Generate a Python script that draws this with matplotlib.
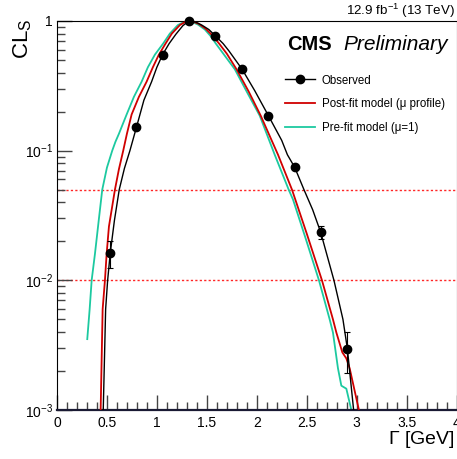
import matplotlib
matplotlib.use("Agg")
import matplotlib.pyplot as plt
from matplotlib.lines import Line2D
from matplotlib.ticker import FixedLocator, LogLocator, NullFormatter, MultipleLocator

plt.rcParams["font.family"] = ["Liberation Sans", "DejaVu Sans"]
plt.rcParams["mathtext.default"] = "regular"

# observed CLs scan points
gamma_obs = [0.53, 0.79, 1.06, 1.32, 1.58, 1.85, 2.11, 2.38, 2.64, 2.90]
cls_obs = [0.0162, 0.153, 0.55, 1.0, 0.767, 0.425, 0.186, 0.0744, 0.0235, 0.00298]
err_lo = [0.0037, 0, 0, 0, 0, 0, 0, 0, 0.0027, 0.00106]
err_hi = [0.0039, 0, 0, 0, 0, 0, 0, 0, 0.0028, 0.00103]

# smooth curve through observed points
gamma_obs_curve = [0.455, 0.463, 0.487, 0.507, 0.533, 0.575, 0.623, 0.675, 0.73, 0.797,
                   0.87, 0.947, 1.0, 1.057, 1.123, 1.19, 1.26, 1.32, 1.39, 1.45,
                   1.52, 1.587, 1.663, 1.72, 1.853, 1.98, 2.117, 2.25, 2.307, 2.38,
                   2.473, 2.56, 2.64, 2.773, 2.863, 2.907, 2.97, 2.98]
cls_obs_curve = [0.0008, 0.001, 0.0060, 0.010, 0.0162, 0.029, 0.05, 0.073, 0.1, 0.153,
                 0.245, 0.34, 0.44, 0.55, 0.67, 0.79, 0.92, 1.0, 0.98, 0.93,
                 0.86, 0.767, 0.67, 0.59, 0.425, 0.29, 0.186, 0.12, 0.093, 0.0744,
                 0.05, 0.035, 0.0235, 0.010, 0.005, 0.00298, 0.001, 0.0008]

# post-fit model (mu profiled)
gamma_post = [0.43, 0.437, 0.457, 0.48, 0.497, 0.52, 0.58, 0.62, 0.663, 0.70,
              0.747, 0.82, 0.897, 0.96, 1.02, 1.087, 1.15, 1.23, 1.30, 1.36,
              1.42, 1.49, 1.56, 1.623, 1.70, 1.797, 1.92, 2.04, 2.213, 2.353,
              2.50, 2.653, 2.763, 2.797, 2.857, 2.897, 2.93, 3.023, 3.035]
cls_post = [0.0008, 0.001, 0.0060, 0.010, 0.016, 0.026, 0.05, 0.072, 0.1, 0.135,
            0.19, 0.26, 0.34, 0.44, 0.55, 0.67, 0.8, 0.93, 1.0, 0.99,
            0.95, 0.87, 0.767, 0.67, 0.56, 0.425, 0.285, 0.186, 0.093, 0.05,
            0.023, 0.010, 0.005, 0.00396, 0.00278, 0.0025, 0.0021, 0.001, 0.0008]

# pre-fit model (mu = 1)
gamma_pre = [0.303, 0.327, 0.347, 0.38, 0.42, 0.453, 0.5, 0.553, 0.585, 0.62,
             0.697, 0.77, 0.847, 0.91, 0.98, 1.063, 1.13, 1.21, 1.29, 1.35,
             1.41, 1.48, 1.537, 1.59, 1.68, 1.78, 1.90, 2.03, 2.18, 2.32,
             2.363, 2.49, 2.623, 2.73, 2.763, 2.813, 2.847, 2.897, 2.947, 2.96]
cls_pre = [0.00352, 0.0060, 0.010, 0.016, 0.03, 0.05, 0.074, 0.1, 0.117, 0.135,
           0.19, 0.26, 0.34, 0.44, 0.55, 0.67, 0.8, 0.93, 1.0, 0.985,
           0.94, 0.86, 0.767, 0.67, 0.54, 0.425, 0.285, 0.186, 0.093, 0.05,
           0.042, 0.021, 0.010, 0.005, 0.00396, 0.0021, 0.00154, 0.00146, 0.001, 0.0008]

cl_levels = [0.05, 0.01]

x_ticks = [0, 0.5, 1, 1.5, 2, 2.5, 3, 3.5, 4]
x_labels = ["0", "0.5", "1", "1.5", "2", "2.5", "3", "3.5", "4"]
y_ticks = [1e-3, 1e-2, 1e-1, 1]
y_labels = ["$10^{-3}$", "$10^{-2}$", "$10^{-1}$", "1"]

c_obs = "black"
c_post = "#d00000"
c_pre = "#1cc9a0"

fig = plt.figure(figsize=(4.57, 4.59), dpi=100)
ax = fig.add_axes([57 / 457, 1 - 410 / 459, 399.5 / 457, 389 / 459])

for lvl in cl_levels:
    ax.axhline(lvl, color="red", lw=1.0, ls=(0, (1.6, 1.6)), alpha=0.85, zorder=1)

ax.plot(gamma_pre, cls_pre, color=c_pre, lw=1.3, zorder=2)
ax.plot(gamma_post, cls_post, color=c_post, lw=1.3, zorder=3)
ax.plot(gamma_obs_curve, cls_obs_curve, color=c_obs, lw=1.0, zorder=4)
ax.errorbar(gamma_obs, cls_obs, yerr=[err_lo, err_hi], fmt="none", ecolor="black",
            elinewidth=0.8, capsize=2, capthick=0.8, zorder=5)
ax.plot(gamma_obs, cls_obs, "o", color=c_obs, ms=6, clip_on=False, zorder=6)

ax.set_yscale("log")
ax.set_xlim(0, 4)
ax.set_ylim(1e-3, 1.0)

ax.xaxis.set_major_locator(FixedLocator(x_ticks))
ax.set_xticklabels(x_labels)
ax.xaxis.set_minor_locator(MultipleLocator(0.1))
ax.yaxis.set_major_locator(FixedLocator(y_ticks))
ax.set_yticklabels(y_labels)
ax.yaxis.set_minor_locator(LogLocator(base=10, subs=range(2, 10)))
ax.yaxis.set_minor_formatter(NullFormatter())

ax.tick_params(axis="both", which="major", direction="in", length=11, width=1,
               color="#444444", labelsize=10, top=False, right=False)
ax.tick_params(axis="both", which="minor", direction="in", length=5.5, width=1,
               color="#444444", top=False, right=False)
ax.tick_params(axis="x", pad=4)
ax.tick_params(axis="y", pad=3)
ax.spines["bottom"].set_linewidth(1.6)
ax.spines["bottom"].set_color("#1a1a33")

fig.text(455 / 457, 1 - 440 / 459, r"$\Gamma$ [GeV]", ha="right", va="center", fontsize=14)
fig.text(23 / 457, 1 - 19 / 459, "CL$_{S}$", ha="center", va="top", rotation=90, fontsize=16)
fig.text(455 / 457, 1 - 10.5 / 459, "12.9 fb$^{-1}$ (13 TeV)", ha="right", va="center", fontsize=9.6)
fig.text(287 / 457, 1 - 50 / 459, "CMS", ha="left", va="baseline", fontsize=14.5, fontweight="bold")
fig.text(343 / 457, 1 - 50 / 459, "Preliminary", ha="left", va="baseline", fontsize=15, style="italic")

handles = [
    Line2D([], [], color=c_obs, lw=1.0, marker="o", ms=6),
    Line2D([], [], color=c_post, lw=1.3),
    Line2D([], [], color=c_pre, lw=1.3),
]
labels = ["Observed", "Post-fit model (\u03bc profile)", "Pre-fit model (\u03bc=1)"]
fig.legend(handles, labels, loc="upper left", bbox_to_anchor=(285 / 457, 1 - 74.5 / 459),
           frameon=False, fontsize=8.3, handlelength=2.6, handletextpad=0.6,
           labelspacing=1.0, borderpad=0, borderaxespad=0)

fig.savefig("out.png", dpi=100)
